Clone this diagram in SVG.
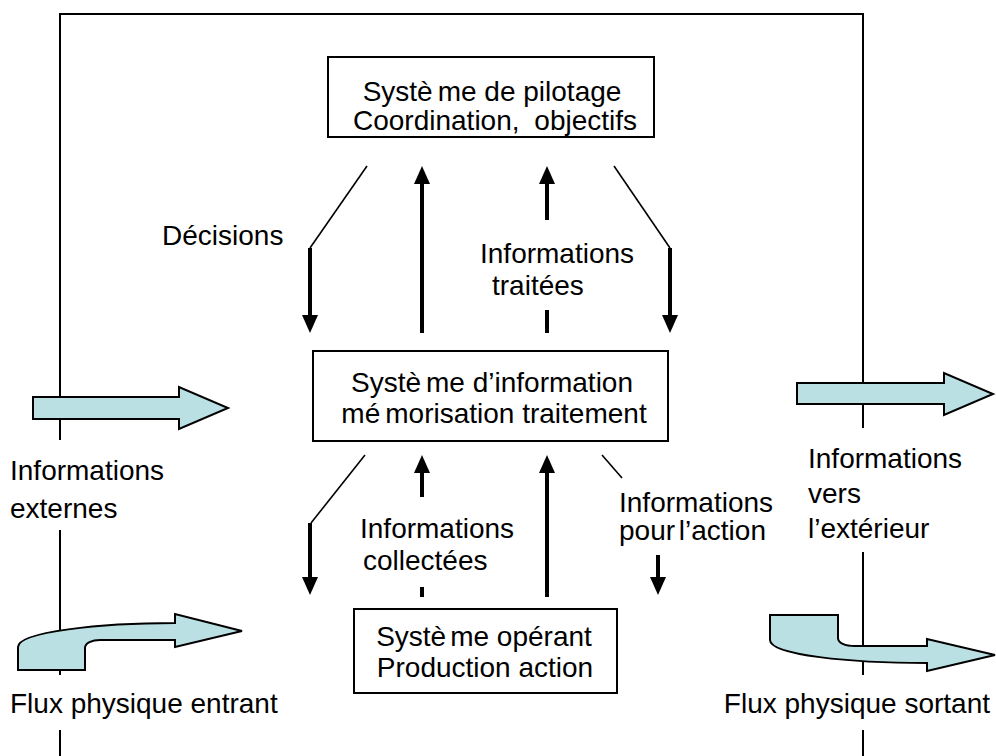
<svg xmlns="http://www.w3.org/2000/svg" width="996" height="756" viewBox="0 0 996 756">
<style>
text{font-family:"Liberation Sans",Arial,sans-serif;font-size:28px;fill:#000}
.c{text-anchor:middle}
.box{fill:#fff;stroke:#000;stroke-width:2}
.frame{fill:none;stroke:#000;stroke-width:2}
.thin{fill:none;stroke:#000;stroke-width:1.6}
.thick{fill:none;stroke:#000;stroke-width:4}
.big{fill:#bbe0e3;stroke:#000;stroke-width:2;stroke-linejoin:miter}
</style>
<defs>
<marker id="ah" viewBox="0 0 18 16" refX="1" refY="8" markerWidth="18" markerHeight="16" markerUnits="userSpaceOnUse" orient="auto">
<path d="M0,0 L18,8 L0,16 Z" fill="#000"/>
</marker>
</defs>
<g id="frame">
<path class="frame" d="M60,440 V14 H863 V428"/>
<path class="frame" d="M60,530 V675 M60,730 V756 M863,552 V675 M863,730 V756"/>
</g>
<g id="connectors">
<polyline class="thin" points="367,166 310,248"/>
<line class="thick" x1="310" y1="248" x2="310" y2="316" marker-end="url(#ah)"/>
<line class="thick" x1="422" y1="333" x2="422" y2="183" marker-end="url(#ah)"/>
<line class="thick" x1="547" y1="220" x2="547" y2="183" marker-end="url(#ah)"/>
<line class="thick" x1="547" y1="310" x2="547" y2="333"/>
<polyline class="thin" points="614,166 670,248"/>
<line class="thick" x1="670" y1="248" x2="670" y2="316" marker-end="url(#ah)"/>
<polyline class="thin" points="365,455 311,523"/>
<line class="thick" x1="310" y1="523" x2="310" y2="578" marker-end="url(#ah)"/>
<line class="thick" x1="422" y1="497" x2="422" y2="472" marker-end="url(#ah)"/>
<line class="thick" x1="422" y1="587" x2="422" y2="597"/>
<line class="thick" x1="547" y1="597" x2="547" y2="472" marker-end="url(#ah)"/>
<polyline class="thin" points="602,455 622,478"/>
<line class="thick" x1="658" y1="555" x2="658" y2="578" marker-end="url(#ah)"/>
</g>
<g id="pilotage">
<rect class="box" x="328" y="57" width="326" height="80"/>
<text class="c" x="492" y="101">Systè<tspan dx="5">me de pilotage</tspan></text>
<text class="c" x="495" y="130">Coordination, <tspan dx="7">objectifs</tspan></text>
</g>
<g id="information">
<rect class="box" x="313" y="351" width="355" height="90"/>
<text class="c" x="492" y="392">Systè<tspan dx="5">me d’information</tspan></text>
<text class="c" x="494" y="423">mé<tspan dx="5">morisation traitement</tspan></text>
</g>
<g id="operant">
<rect class="box" x="354" y="609" width="263" height="84"/>
<text class="c" x="484" y="646">Systè<tspan dx="4">me opérant</tspan></text>
<text class="c" x="485" y="677">Production action</text>
</g>
<g id="labels">
<text x="162" y="245">Décisions</text>
<text x="480" y="263">Informations</text>
<text x="492" y="295">traitées</text>
<text x="360" y="538">Informations</text>
<text x="363" y="570">collectées</text>
<text x="619" y="512">Informations</text>
<text x="619" y="540" word-spacing="-4">pour l’action</text>
</g>
<g id="info-externes">
<path class="big" d="M33,397 H179 V387 L228,408 L179,429 V419 H33 Z"/>
<text x="10" y="480">Informations</text>
<text x="10" y="518">externes</text>
</g>
<g id="info-exterieur">
<path class="big" d="M797,383 H944 V373 L993,394 L944,415 V404 H797 Z"/>
<text x="808" y="468">Informations</text>
<text x="808" y="503">vers</text>
<text x="808" y="538">l’extérieur</text>
</g>
<g id="flux-entrant">
<path class="big" d="M18,670 L18,647 C18,632 100,623 175,623 L175,614 L242,631 L175,647 L175,640 L100,640 C92,640 85,643 85,648 L85,670 Z"/>
<text x="10" y="713">Flux physique entrant</text>
</g>
<g id="flux-sortant">
<path class="big" d="M770,615 L838,615 L838,638 C838,643 845,646 855,646 L927,646 L927,639 L995,655 L927,671 L927,663 C850,663 770,655 770,640 Z"/>
<text x="990" y="713" text-anchor="end">Flux physique sortant</text>
</g>
</svg>
